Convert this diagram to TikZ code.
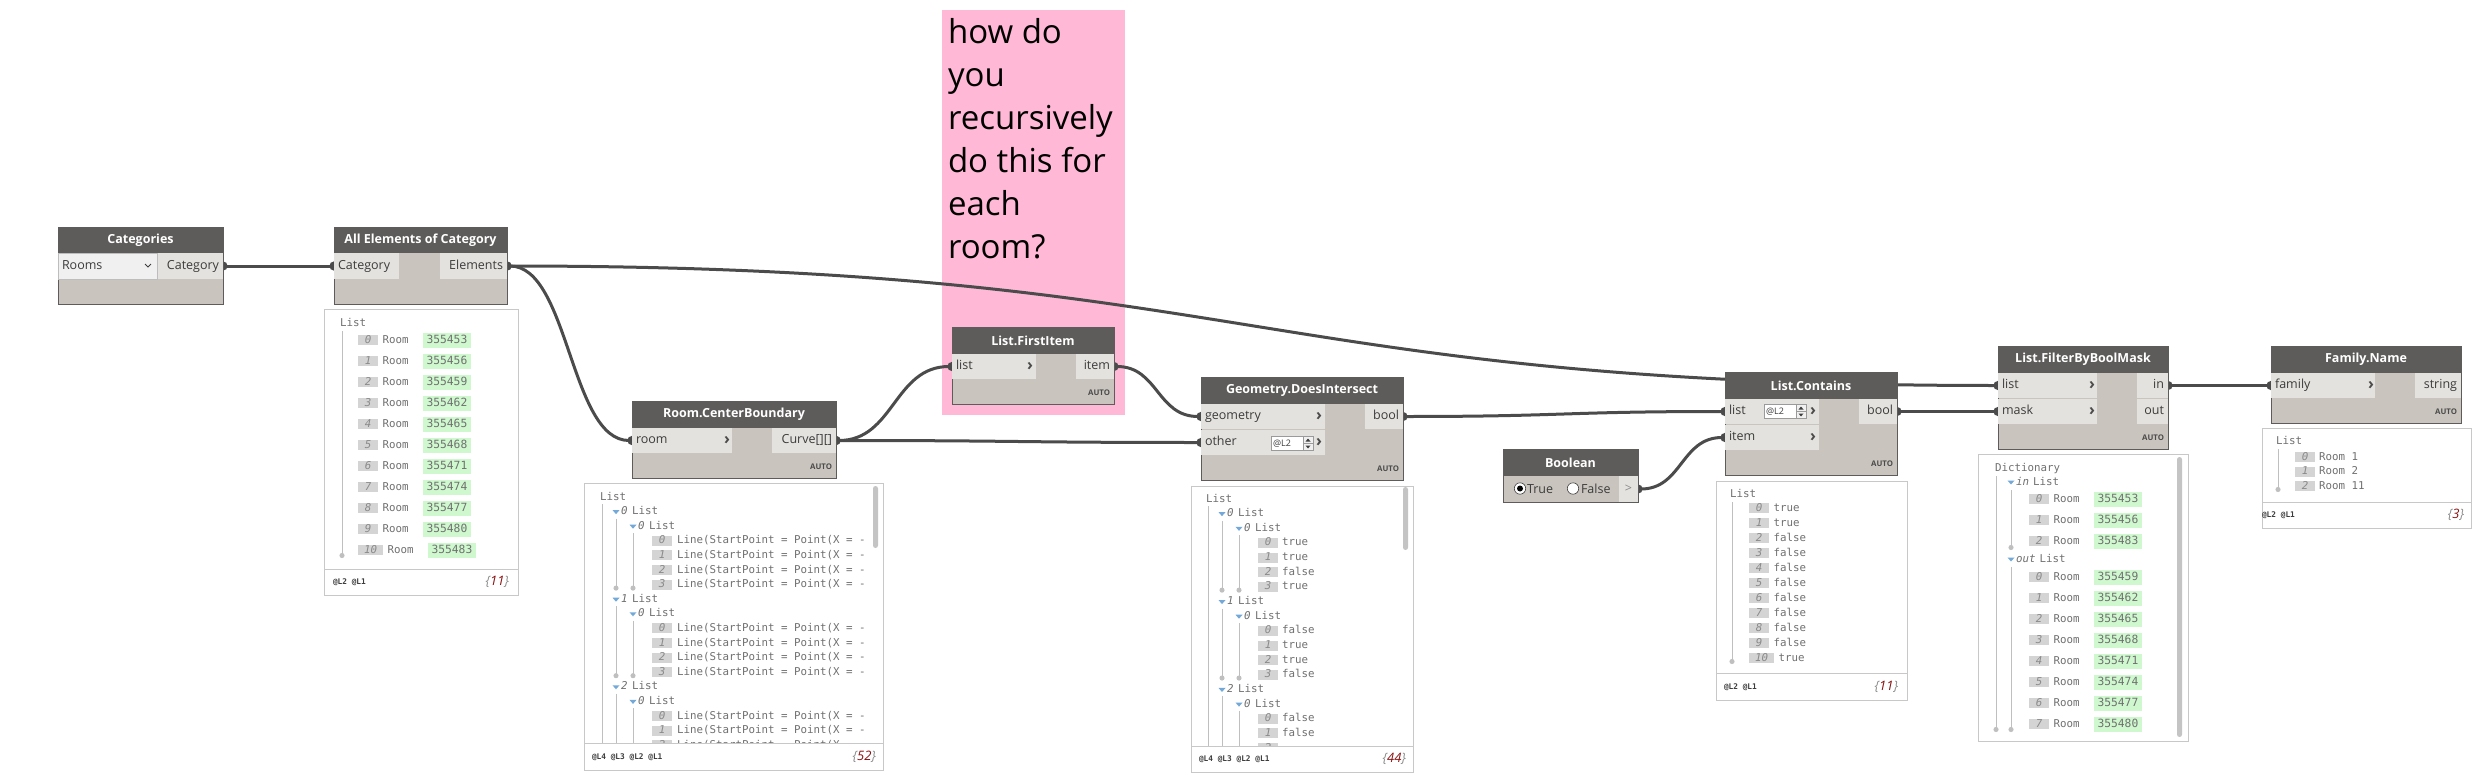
\documentclass[tikz,border=0pt]{standalone}
\usepackage{fontspec}
\setmainfont{Open Sans}
\newfontfamily\monofont{DejaVu Sans Mono}
\usetikzlibrary{positioning,arrows.meta}
\pgfdeclarelayer{behind}
\pgfsetlayers{behind,main}

\definecolor{headgray}{HTML}{5E5C5A}
\definecolor{bodygray}{HTML}{C9C5BE}
\definecolor{portgray}{HTML}{E4E2DE}
\definecolor{porttext}{HTML}{3C3C3C}
\definecolor{wiregray}{HTML}{4B4B4B}
\definecolor{notepink}{HTML}{FFB9D6}
\definecolor{framegray}{HTML}{C8C8C8}
\definecolor{scrollgray}{HTML}{C4C4C4}
\definecolor{idxgray}{HTML}{D4D4D4}
\definecolor{idtext}{HTML}{8A8A8A}
\definecolor{listtext}{HTML}{707070}
\definecolor{idgreen}{HTML}{CFF8CF}
\definecolor{treegray}{HTML}{BFBFBF}
\definecolor{triblue}{HTML}{73A9D8}
\definecolor{countred}{HTML}{8B1010}
\definecolor{dropfill}{HTML}{F0F0F0}
\definecolor{dropline}{HTML}{BDBDBD}
\definecolor{lacegray}{HTML}{9A9A9A}

\begin{document}
\begin{tikzpicture}
		[x=1pt, y=-1pt,
		every node/.style={inner sep=0pt, outer sep=0pt},
		nodebody/.style={draw=headgray, fill=bodygray, line width=1pt, anchor=north west},
		nodehead/.style={fill=headgray, text=white, anchor=north west, minimum height=26pt, font=\fontsize{12.5}{14}\selectfont\bfseries},
		portbox/.style={fill=portgray, anchor=north west, minimum height=25pt, inner xsep=4pt, text height=9pt, text depth=3pt, text=porttext, font=\fontsize{12.5}{14}\selectfont},
		inport/.style={portbox, text width=#1, align=left},
		outport/.style={portbox, text width=#1, align=right},
		chev/.style={text=wiregray, font=\fontsize{16}{16}\selectfont\bfseries},
		autotag/.style={anchor=east, text=wiregray, font=\fontsize{7.8}{8}\selectfont\bfseries},
		lacebox/.style={anchor=north west, draw=lacegray, fill=white, line width=0.8pt, minimum height=14pt, inner xsep=2pt, text=porttext, font=\fontsize{9}{10}\selectfont, text width=28pt, align=left},
		spinner/.pic={
			\draw[draw=lacegray, fill=dropfill, line width=0.8pt] (0,0) rectangle (10,14);
			\draw[draw=lacegray, line width=0.6pt] (0,7) -- (10,7);
			\fill[porttext] (2.5,5) -- (7.5,5) -- (5,2) -- cycle;
			\fill[porttext] (2.5,9) -- (7.5,9) -- (5,12) -- cycle;
		},
		wire/.style={draw=wiregray, line width=3pt, {Circle[length=9pt,width=9pt]}-{Circle[length=9pt,width=9pt]}, shorten <=-4.5pt, shorten >=-4.5pt},
		preview/.style={draw=framegray, fill=white, line width=1pt, anchor=north west},
		mono/.style={anchor=west, text=listtext, text height=8pt, text depth=2pt, font=\monofont\fontsize{10.8}{12}\selectfont},
		idx/.style={mono, fill=idxgray, minimum width=20pt, minimum height=10pt, inner xsep=6pt, text=idtext, font=\monofont\itshape\fontsize{10.8}{12}\selectfont},
		idcell/.style={mono, fill=idgreen, minimum height=15pt, inner xsep=4pt, font=\monofont\fontsize{11.3}{12}\selectfont},
		tree/.style={draw=treegray, line width=1pt, -{Circle[length=5pt]}},
		fold/.style={fill=triblue},
		levels/.style={anchor=west, text=porttext, font=\monofont\bfseries\fontsize{7.8}{9}\selectfont},
		count/.style={anchor=east, text=idtext, font=\itshape\fontsize{13}{14}\selectfont},
		scroll/.style={fill=scrollgray, rounded corners=2.5pt}
		]
		\useasboundingbox (0,0) rectangle (2474,784);
		% the note sits under everything
		\begin{pgfonlayer}{behind}
			\fill[white] (0,0) rectangle (2474,784);
			\node[fill=notepink, anchor=north west, minimum width=183pt, minimum height=405pt] (note) at (942,10) {};
			\node[anchor=north west, align=left, font=\fontsize{33}{43}\selectfont] (notetext) at (948,18) {how do\\you\\recursively\\do this for\\each\\room?};
		\end{pgfonlayer}

		% Categories
		\node[nodebody, minimum width=165pt, minimum height=77pt] (catbody) at (58,227) {};
		\node[nodehead, minimum width=165pt] (cat) at (58,227) {Categories};
		\node[portbox, fill=dropfill, draw=dropline, line width=0.8pt, minimum height=26pt, text width=91pt, align=left] (rooms) at (58,253) {Rooms};
		\draw[porttext, line width=0.8pt] (145,264) -- (148,267) -- (151,264);
		\node[outport=57pt, minimum height=26pt] (catout) at (158,253) {Category};

		% All Elements of Category
		\node[nodebody, minimum width=173pt, minimum height=77pt] (aecbody) at (334,227) {};
		\node[nodehead, minimum width=173pt] (aec) at (334,227) {All Elements of Category};
		\node[inport=57pt, minimum height=26pt] (aecin) at (334,253) {Category};
		\node[outport=59pt, minimum height=26pt] (aecout) at (440,253) {Elements};

		\node[preview, minimum width=194pt, minimum height=286pt] (aecprev) at (324,309) {};
		\draw[framegray] (324,569) -- (518,569);
		\node[mono] (aeclist) at (340,323) {List};
		\draw[tree] (342,331) -- (342,558);
		\foreach \id [count=\i from 0] in {355453,355456,355459,355462,355465,355468,355471,355474,355477,355480,355483} {
			\node[idx] (aecidx\i) at (358,{340+21*\i}) {\i};
			\node[mono, right=4.5pt of aecidx\i] (aecroom\i) {Room};
			\node[idcell, right=14pt of aecroom\i] (aecid\i) {\id};
		}
		\node[levels] (aeclev) at (333,582) {@L2 @L1};
		\node[count] (aeccount) at (509,582) {\{\textcolor{countred}{11}\}};

		% Room.CenterBoundary
		\node[nodebody, minimum width=204pt, minimum height=77pt] (rcbbody) at (632,401) {};
		\node[nodehead, minimum width=204pt, minimum height=27pt] (rcb) at (632,401) {Room.CenterBoundary};
		\node[inport=92pt] (rcbin) at (632,428) {room};
		\node[chev] (rcbchev) at (727,440) {›};
		\node[outport=56pt] (rcbout) at (772,428) {Curve[][]};
		\node[autotag] (rcbauto) at (832,467) {AUTO};

		\node[preview, minimum width=299pt, minimum height=287pt] (rcbprev) at (584,483) {};
		\draw[framegray] (584,743) -- (883,743);
		\fill[scroll] (873,486) rectangle (878,548);
		\begin{scope}
			\clip (585,484) rectangle (871,742);
			\node[mono] (rcblist) at (600,497) {List};
			\draw[draw=treegray, line width=1pt] (602,504) -- (602,745);
			\foreach \g in {0,1,2} {
				\pgfmathsetmacro\ya{497+14.6*(1+6*\g)}
				\pgfmathsetmacro\yb{\ya+14.6}
				\fill[fold] (612.5,\ya-1.5) -- ++(7,0) -- ++(-3.5,4) -- cycle;
				\node[mono] (rcbgrp\g) at (621,\ya) {\textit{\g}\hspace{4.5pt}List};
				\fill[fold] (629.5,\yb-1.5) -- ++(7,0) -- ++(-3.5,4) -- cycle;
				\node[mono] (rcbsub\g) at (638,\yb) {\textit{0}\hspace{4.5pt}List};
				\draw[tree] (616,\ya+7) -- (616,\ya+79);
				\draw[tree] (633,\yb+7) -- (633,\ya+79);
				\foreach \j in {0,...,3} {
					\node[idx] (rcbidx\g\j) at (652,{\yb+14.6*(\j+1)}) {\j};
					\node[mono, right=5pt of rcbidx\g\j] (rcbline\g\j) {Line(StartPoint = Point(X = -};
				}
			}
		\end{scope}
		\node[levels] (rcblev) at (592,757) {@L4 @L3 @L2 @L1};
		\node[count] (rcbcount) at (876,757) {\{\textcolor{countred}{52}\}};

		% List.FirstItem
		\node[nodebody, minimum width=162pt, minimum height=77pt] (fibody) at (952,327) {};
		\node[nodehead, minimum width=162pt, minimum height=27pt] (fi) at (952,327) {List.FirstItem};
		\node[inport=76pt] (fiin) at (952,354) {list};
		\node[chev] (fichev) at (1030,366) {›};
		\node[outport=30pt] (fiout) at (1076,354) {item};
		\node[autotag] (fiauto) at (1110,393) {AUTO};

		% Geometry.DoesIntersect
		\node[nodebody, minimum width=202pt, minimum height=103pt] (dibody) at (1201,377) {};
		\node[nodehead, minimum width=202pt, minimum height=27pt] (di) at (1201,377) {Geometry.DoesIntersect};
		\node[inport=116pt] (digeo) at (1201,404) {geometry};
		\node[inport=116pt] (diother) at (1201,430) {other};
		\node[lacebox] (dilace) at (1271,436.5) {@L2};
		\pic at (1303,436.5) {spinner};
		\node[chev] (dichevgeo) at (1319,416) {›};
		\node[chev] (dichevother) at (1319,442) {›};
		\node[outport=30pt] (dibool) at (1365,404) {bool};
		\node[autotag] (diauto) at (1399,469) {AUTO};

		\node[preview, minimum width=222pt, minimum height=286pt] (diprev) at (1191,486) {};
		\draw[framegray] (1191,746) -- (1413,746);
		\fill[scroll] (1403,487) rectangle (1408,550);
		\begin{scope}
			\clip (1192,487) rectangle (1401,745);
			\node[mono] (dilist) at (1206,499) {List};
			\draw[draw=treegray, line width=1pt] (1208,506) -- (1208,750);
			\foreach \g/\vals in {0/{true,true,false,true},1/{false,true,true,false},2/{false,false}} {
				\pgfmathsetmacro\ya{499+14.65*(1+6*\g)}
				\pgfmathsetmacro\yb{\ya+14.65}
				\fill[fold] (1218.5,\ya-1.5) -- ++(7,0) -- ++(-3.5,4) -- cycle;
				\node[mono] (digrp\g) at (1227,\ya) {\textit{\g}\hspace{4.5pt}List};
				\fill[fold] (1235.5,\yb-1.5) -- ++(7,0) -- ++(-3.5,4) -- cycle;
				\node[mono] (disub\g) at (1244,\yb) {\textit{0}\hspace{4.5pt}List};
				\draw[tree] (1222,\ya+7) -- (1222,\ya+79);
				\draw[tree] (1239,\yb+7) -- (1239,\ya+79);
				\foreach \v [count=\j from 0] in \vals {
					\node[idx] (diidx\g\j) at (1258,{\yb+14.65*(\j+1)}) {\j};
					\node[mono, right=4pt of diidx\g\j] (dival\g\j) {\v};
				}
			}
			\node[idx] (diidx22) at (1258,748) {2};
		\end{scope}
		\node[levels] (dilev) at (1199,759) {@L4 @L3 @L2 @L1};
		\node[count] (dicount) at (1406,759) {\{\textcolor{countred}{44}\}};

		% Boolean
		\node[nodebody, minimum width=135pt, minimum height=53pt] (boolbody) at (1503,449) {};
		\node[nodehead, minimum width=135pt, minimum height=27pt] (bool) at (1503,449) {Boolean};
		\node[portbox, minimum width=19pt, minimum height=26pt, inner xsep=0pt, text=idtext] (boolout) at (1619,476) {>};
		\draw[fill=white, draw=porttext, line width=0.6pt] (1520,488.5) circle (5.7pt);
		\fill[black] (1520,488.5) circle (3pt);
		\draw[fill=white, draw=porttext, line width=0.6pt] (1573,488.5) circle (5.7pt);
		\node[anchor=west, text=porttext, font=\fontsize{12.5}{14}\selectfont] (booltrue) at (1527,489) {True};
		\node[anchor=west, text=porttext, font=\fontsize{12.5}{14}\selectfont] (boolfalse) at (1581,489) {False};

		% List.Contains
		\node[nodebody, minimum width=172pt, minimum height=103pt] (ctbody) at (1725,372) {};
		\node[nodehead, minimum width=172pt, minimum height=27pt] (ct) at (1725,372) {List.Contains};
		\node[inport=86pt] (ctlist) at (1725,399) {list};
		\node[inport=86pt] (ctitem) at (1725,425) {item};
		\node[lacebox] (ctlace) at (1764,404.5) {@L2};
		\pic at (1796,404.5) {spinner};
		\node[chev] (ctchevlist) at (1813,411) {›};
		\node[chev] (ctchevitem) at (1813,437) {›};
		\node[outport=30pt] (ctbool) at (1859,399) {bool};
		\node[autotag] (ctauto) at (1893,464) {AUTO};

		\node[preview, minimum width=191pt, minimum height=219pt] (ctprev) at (1716,481) {};
		\draw[framegray] (1716,673) -- (1907,673);
		\node[mono] (ctlisthead) at (1730,494) {List};
		\draw[tree] (1732,502) -- (1732,664);
		\foreach \v [count=\i from 0] in {true,true,false,false,false,false,false,false,false,false,true} {
			\node[idx] (ctidx\i) at (1749,{508+15*\i}) {\i};
			\node[mono, right=4.5pt of ctidx\i] (ctval\i) {\v};
		}
		\node[levels] (ctlev) at (1724,687) {@L2 @L1};
		\node[count] (ctcount) at (1898,687) {\{\textcolor{countred}{11}\}};

		% List.FilterByBoolMask
		\node[nodebody, minimum width=170pt, minimum height=103pt] (fbbody) at (1998,346) {};
		\node[nodehead, minimum width=170pt, minimum height=27pt] (fb) at (1998,346) {List.FilterByBoolMask};
		\node[inport=91pt] (fblist) at (1998,373) {list};
		\node[inport=91pt] (fbmask) at (1998,399) {mask};
		\node[chev] (fbchevlist) at (2092,385) {›};
		\node[chev] (fbchevmask) at (2092,411) {›};
		\node[outport=23pt] (fbin) at (2137,373) {in};
		\node[outport=23pt] (fbout) at (2137,399) {out};
		\node[autotag] (fbauto) at (2164,438) {AUTO};

		\node[preview, minimum width=210pt, minimum height=287pt] (fbprev) at (1978,454) {};
		\fill[scroll] (2177,457) rectangle (2182,737);
		\node[mono] (fbdict) at (1995,468) {Dictionary};
		\draw[tree] (1996,476) -- (1996,732);
		\fill[fold] (2007.5,480.5) -- ++(7,0) -- ++(-3.5,4) -- cycle;
		\node[mono] (fbinhead) at (2016,482) {\textit{in}\hspace{4pt}List};
		\draw[tree] (2011,490) -- (2011,550);
		\foreach \id [count=\i from 0] in {355453,355456,355483} {
			\node[idx] (fbinidx\i) at (2029,{499+21*\i}) {\i};
			\node[mono, right=4.5pt of fbinidx\i] (fbinroom\i) {Room};
			\node[idcell, right=14pt of fbinroom\i] (fbinid\i) {\id};
		}
		\fill[fold] (2007.5,557.5) -- ++(7,0) -- ++(-3.5,4) -- cycle;
		\node[mono] (fbouthead) at (2016,559) {\textit{out}\hspace{4pt}List};
		\draw[tree] (2011,567) -- (2011,732);
		\foreach \id [count=\i from 0] in {355459,355462,355465,355468,355471,355474,355477,355480} {
			\node[idx] (fboutidx\i) at (2029,{577+21*\i}) {\i};
			\node[mono, right=4.5pt of fboutidx\i] (fboutroom\i) {Room};
			\node[idcell, right=14pt of fboutroom\i] (fboutid\i) {\id};
		}

		% Family.Name
		\node[nodebody, minimum width=190pt, minimum height=77pt] (fambody) at (2271,346) {};
		\node[nodehead, minimum width=190pt, minimum height=27pt] (fam) at (2271,346) {Family.Name};
		\node[inport=96pt] (famin) at (2271,373) {family};
		\node[chev] (famchev) at (2371,385) {›};
		\node[outport=38pt] (famout) at (2415,373) {string};
		\node[autotag] (famauto) at (2457,412) {AUTO};

		\node[preview, minimum width=209pt, minimum height=100pt] (famprev) at (2262,428) {};
		\draw[framegray] (2262,502) -- (2471,502);
		\node[mono] (famlist) at (2276,441) {List};
		\draw[tree] (2278,449) -- (2278,492);
		\foreach \r [count=\i from 0] in {Room 1,Room 2,Room 11} {
			\node[idx] (famidx\i) at (2295,{457+14.5*\i}) {\i};
			\node[mono, right=4pt of famidx\i] (famval\i) {\r};
		}
		\node[levels] (famlev) at (2262,515) {@L2 @L1};
		\node[count] (famcount) at (2464,515) {\{\textcolor{countred}{3}\}};

		% wires go behind the nodes
		\begin{pgfonlayer}{behind}
			\draw[wire] (catout.east) -- (aecin.west);
			\draw[wire] (aecout.east) .. controls +(62,0) and +(-62,0) .. (rcbin.west);
			\draw[wire] (aecout.east) .. controls +(745,0) and +(-745,0) .. (fblist.west);
			\draw[wire] (rcbout.east) .. controls +(58,0) and +(-58,0) .. (fiin.west);
			\draw[wire] (rcbout.east) .. controls +(182,0) and +(-182,0) .. (diother.west);
			\draw[wire] (fiout.east) .. controls +(44,0) and +(-44,0) .. (digeo.west);
			\draw[wire] (dibool.east) .. controls +(161,0) and +(-161,0) .. (ctlist.west);
			\draw[wire] (boolout.east) .. controls +(44,0) and +(-44,0) .. (ctitem.west);
			\draw[wire] (ctbool.east) .. controls +(50,0) and +(-50,0) .. (fbmask.west);
			\draw[wire] (fbin.east) -- (famin.west);
		\end{pgfonlayer}
	\end{tikzpicture}
\end{document}
